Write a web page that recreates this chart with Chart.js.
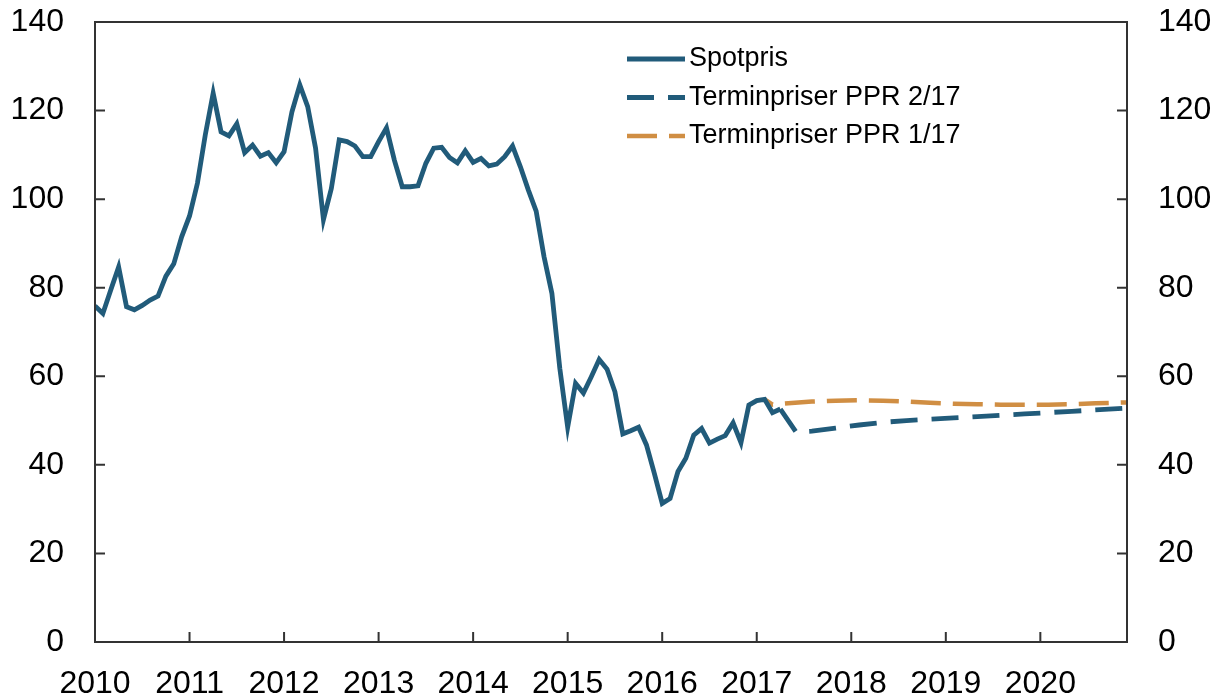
<!DOCTYPE html>
<html><head><meta charset="utf-8">
<script src="https://cdn.jsdelivr.net/npm/chart.js@4.4.1/dist/chart.umd.min.js"></script>
<style>html,body{margin:0;padding:0;background:#fff}#wrap{width:1216px;height:699px}</style>
</head><body><div id="wrap"><canvas id="c" width="1216" height="699"></canvas></div>
<script>
// ---- data ----
const startYear = 2010;
const lastMonthIndex = 131; // Dec 2020
const yearTicks = [2010, 2011, 2012, 2013, 2014, 2015, 2016, 2017, 2018, 2019, 2020];
const yTicks = [0, 20, 40, 60, 80, 100, 120, 140];
const seriesNames = ['Spotpris', 'Terminpriser PPR 2/17', 'Terminpriser PPR 1/17'];
// monthly spot price from Jan 2010
const spotValues = [
  75.9, 74.2, 79.5, 84.7, 75.7, 75.0, 76.0, 77.2, 78.1, 82.6, 85.4, 91.5,
  96.2, 103.6, 114.5, 123.9, 115.2, 114.3, 117.0, 110.5, 112.2, 109.7, 110.5, 108.2,
  110.7, 119.7, 125.8, 120.9, 111.5, 95.4, 102.4, 113.4, 113.0, 112.0, 109.6, 109.6,
  113.0, 116.1, 108.8, 102.8, 102.8, 103.0, 108.1, 111.5, 111.7, 109.4, 108.2, 110.9,
  108.3, 109.2, 107.5, 107.9, 109.6, 112.0, 107.3, 102.1, 97.3, 87.0, 78.7, 61.8,
  48.5, 58.4, 56.2, 59.9, 63.8, 61.6, 56.5, 47.0, 47.7, 48.5, 44.5, 38.1,
  31.3, 32.4, 38.5, 41.5, 46.7, 48.2, 44.9, 45.8, 46.6, 49.5, 45.0, 53.5,
  54.5, 54.8, 51.8, 52.6
];
// forward curves: month index (from Jan 2010) and value
const ppr2Months = [87, 89, 90, 91, 94, 97, 100, 103, 106, 109, 112, 115, 118, 121, 124, 127, 131];
const ppr2Values = [52.6, 47.4, 47.5, 47.6, 48.3, 49.0, 49.6, 50.0, 50.3, 50.6, 50.9, 51.2, 51.5, 51.8, 52.1, 52.4, 52.8];
const ppr1Months = [85, 86, 88, 91, 94, 97, 100, 103, 106, 109, 112, 115, 118, 121, 124, 127, 131];
const ppr1Values = [54.8, 53.6, 53.9, 54.3, 54.5, 54.6, 54.5, 54.3, 54.0, 53.8, 53.7, 53.6, 53.6, 53.6, 53.7, 53.9, 54.1];

// ---- styles ----
const BLUE = '#215B7A';
const ORANGE = '#D08E43';
const AXIS = '#333333';
const FONT = "'Liberation Sans', Arial, Helvetica, sans-serif";

const frameAndLegend = {
  id: 'frameAndLegend',
  afterDatasetsDraw(chart) {
    const ctx = chart.ctx;
    const a = chart.chartArea;
    ctx.save();
    ctx.strokeStyle = AXIS;
    ctx.lineWidth = 2;
    ctx.strokeRect(a.left, a.top, a.right - a.left, a.bottom - a.top);
    // inward ticks
    const tl = 10;
    const xs = chart.scales.x;
    ctx.beginPath();
    xs.ticks.forEach(t => {
      const px = xs.getPixelForValue(t.value);
      ctx.moveTo(px, a.bottom); ctx.lineTo(px, a.bottom - tl);
    });
    const yl = chart.scales.y, yr = chart.scales.y2;
    yl.ticks.forEach(t => {
      const py = yl.getPixelForValue(t.value);
      ctx.moveTo(a.left, py); ctx.lineTo(a.left + tl, py);
    });
    yr.ticks.forEach(t => {
      const py = yr.getPixelForValue(t.value);
      ctx.moveTo(a.right, py); ctx.lineTo(a.right - tl, py);
    });
    ctx.stroke();
    ctx.restore();
  },
  afterDraw(chart) {
    const ctx = chart.ctx;
    ctx.save();
    const x1 = 627, x2 = 685, tx = 689, y0 = 59, dy = 38.5;
    chart.data.datasets.forEach((ds, k) => {
      const y = y0 + k * dy;
      ctx.strokeStyle = ds.borderColor;
      ctx.lineWidth = ds.borderWidth;
      ctx.setLineDash(ds.borderDash || []);
      ctx.lineDashOffset = 0;
      ctx.beginPath(); ctx.moveTo(x1, y); ctx.lineTo(x2, y); ctx.stroke();
      ctx.setLineDash([]);
      ctx.fillStyle = '#000';
      ctx.font = '27px ' + FONT;
      ctx.textBaseline = 'middle';
      ctx.textAlign = 'left';
      ctx.fillText(ds.label, tx, y);
    });
    ctx.restore();
  }
};

const yAxisBase = (pos, w, pad) => ({
  type: 'linear', position: pos, min: 0, max: 140,
  afterBuildTicks: s => { s.ticks = yTicks.map(v => ({ value: v })); },
  afterFit: s => { s.width = w; s.paddingTop = 0; s.paddingBottom = 0; },
  grid: { display: false, drawTicks: false },
  border: { display: false },
  ticks: { color: '#000', font: { family: FONT, size: 32 }, padding: pad, callback: v => String(v) }
});

new Chart(document.getElementById('c'), {
  type: 'line',
  data: {
    datasets: [
      { label: seriesNames[0], data: spotValues.map((v, i) => ({ x: i, y: v })),
        borderColor: BLUE, borderWidth: 4.8, pointRadius: 0, tension: 0, fill: false },
      { label: seriesNames[1], data: ppr2Months.map((m, k) => ({ x: m, y: ppr2Values[k] })),
        borderColor: BLUE, borderWidth: 4.8, borderDash: [27, 14], pointRadius: 0, tension: 0, fill: false },
      { label: seriesNames[2], data: ppr1Months.map((m, k) => ({ x: m, y: ppr1Values[k] })),
        borderColor: ORANGE, borderWidth: 4.5, borderDash: [30, 12], borderDashOffset: 20, pointRadius: 0, tension: 0, fill: false }
    ]
  },
  options: {
    responsive: false, devicePixelRatio: 1, animation: false,
    layout: { padding: { top: 22, left: 0, right: 0, bottom: 0 } },
    plugins: { legend: { display: false }, tooltip: { enabled: false } },
    scales: {
      x: {
        type: 'linear', position: 'bottom', min: 0, max: lastMonthIndex,
        afterBuildTicks: s => { s.ticks = yearTicks.map(y => ({ value: (y - startYear) * 12 })); },
        afterFit: s => { s.height = 57; s.paddingLeft = 0; s.paddingRight = 0; },
        grid: { display: false, drawTicks: false },
        border: { display: false },
        ticks: { color: '#000', font: { family: FONT, size: 32 }, padding: 23, maxRotation: 0, autoSkip: false,
                 callback: v => String(startYear + Math.round(v / 12)) }
      },
      y: yAxisBase('left', 95, 31),
      y2: yAxisBase('right', 89, 31)
    }
  },
  plugins: [frameAndLegend]
});
</script></body></html>
